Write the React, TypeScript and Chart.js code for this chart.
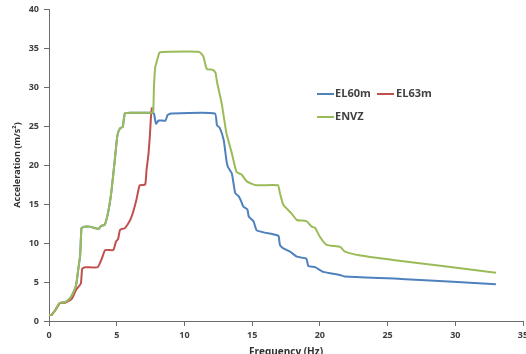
import React, { useEffect, useRef } from "react";
import { Chart, registerables } from "chart.js";

Chart.register(...registerables);

// ENVZ
const envzFreq = [0.0, 0.2, 0.5, 0.8, 1.2, 1.5, 1.7, 2.0, 2.15, 2.3, 2.4, 2.6, 3.0, 3.4, 3.65, 3.85, 4.1, 4.35, 4.6, 4.85, 5.05, 5.25, 5.45, 5.6, 6.0, 7.0, 7.6, 7.7, 7.75, 7.85, 7.95, 8.15, 8.4, 11.1, 11.4, 11.65, 12.1, 12.3, 12.4, 12.75, 13.1, 13.5, 13.85, 14.2, 14.6, 15.3, 16.9, 17.05, 17.3, 17.9, 18.3, 19.0, 19.4, 19.65, 20.0, 20.5, 21.5, 21.85, 23.0, 26.0, 33.0];
const envzAcc = [0.75, 0.8, 1.5, 2.3, 2.4, 2.8, 3.3, 4.6, 6.5, 8.4, 11.9, 12.1, 12.1, 11.9, 11.8, 12.2, 12.3, 13.8, 16.5, 20.5, 23.8, 24.7, 24.9, 26.6, 26.7, 26.7, 26.7, 26.9, 30.0, 32.6, 33.2, 34.4, 34.5, 34.5, 33.9, 32.3, 32.2, 31.8, 30.7, 27.9, 24.1, 21.5, 19.1, 18.8, 17.9, 17.4, 17.4, 16.4, 14.9, 13.8, 12.95, 12.8, 12.1, 11.95, 10.8, 9.75, 9.5, 8.9, 8.4, 7.7, 6.2];

// EL60m
const el60Freq = [0.0, 0.2, 0.5, 0.8, 1.2, 1.5, 1.7, 2.0, 2.15, 2.3, 2.4, 2.6, 3.0, 3.4, 3.65, 3.85, 4.1, 4.35, 4.6, 4.85, 5.05, 5.25, 5.45, 5.6, 6.0, 7.0, 7.6, 7.75, 7.9, 8.1, 8.6, 8.75, 9.0, 12.25, 12.4, 12.6, 12.9, 13.1, 13.2, 13.5, 13.75, 14.0, 14.2, 14.35, 14.65, 14.75, 15.1, 15.35, 16.6, 16.95, 17.05, 17.3, 17.8, 18.3, 19.0, 19.15, 19.65, 20.25, 21.5, 21.85, 26.0, 33.0];
const el60Acc = [0.75, 0.8, 1.5, 2.3, 2.4, 2.8, 3.3, 4.6, 6.5, 8.4, 11.9, 12.1, 12.1, 11.9, 11.8, 12.2, 12.3, 13.8, 16.5, 20.5, 23.8, 24.7, 24.9, 26.6, 26.7, 26.7, 26.7, 26.6, 25.3, 25.7, 25.7, 26.4, 26.6, 26.6, 25.1, 24.8, 23.2, 20.6, 19.8, 18.9, 16.4, 16.0, 15.3, 14.65, 14.3, 13.4, 12.8, 11.6, 11.1, 10.9, 9.75, 9.3, 8.9, 8.25, 8.0, 7.05, 6.9, 6.3, 5.9, 5.7, 5.4, 4.7];

// EL63m
const el63Freq = [0.0, 0.2, 0.5, 0.8, 1.2, 1.4, 1.7, 2.0, 2.35, 2.45, 2.65, 3.6, 3.9, 4.15, 4.75, 4.95, 5.1, 5.25, 5.6, 5.85, 6.05, 6.25, 6.45, 6.7, 7.1, 7.2, 7.35, 7.45, 7.53, 7.6];
const el63Acc = [0.75, 0.8, 1.5, 2.3, 2.35, 2.5, 2.9, 4.0, 4.8, 6.7, 6.9, 6.9, 8.0, 9.1, 9.1, 10.2, 10.5, 11.7, 11.9, 12.5, 13.15, 14.2, 15.5, 17.4, 17.5, 19.3, 21.5, 23.8, 26.2, 27.4];

const seriesLabels = ["EL60m", "EL63m", "ENVZ"];
const seriesColors = ["#4F81BD", "#C0504D", "#9BBB59"];
const seriesOrder = [2, 1, 0];

const xTitle = "Frequency (Hz)";
const yTitle = "Acceleration (m/s\u00B2)";

const toPoints = (xs: number[], ys: number[]) => xs.map((x, i) => ({ x, y: ys[i] }));

const legendPlugin = {
  id: "customLegend",
  afterDraw(chart: any) {
    const ctx = chart.ctx;
    const pos = [
      { lx: 317, ly: 94, tx: 335 },
      { lx: 377, ly: 94, tx: 396 },
      { lx: 317, ly: 117, tx: 335 },
    ];
    ctx.save();
    ctx.font = "bold 11px 'Open Sans'";
    ctx.textBaseline = "middle";
    ctx.textAlign = "left";
    chart.data.datasets.forEach((ds: any, i: number) => {
      const p = pos[i];
      ctx.strokeStyle = ds.borderColor;
      ctx.lineWidth = 2;
      ctx.beginPath();
      ctx.moveTo(p.lx, p.ly);
      ctx.lineTo(p.lx + 17, p.ly);
      ctx.stroke();
      ctx.fillStyle = "#404040";
      ctx.fillText(ds.label, p.tx, p.ly);
    });
    ctx.restore();
  },
};

export default function App() {
  const ref = useRef<HTMLCanvasElement>(null);

  useEffect(() => {
    if (!ref.current) return;
    const axisColor = "#6b6b6b";
    const chart = new Chart(ref.current, {
      type: "line",
      data: {
        datasets: [
          { label: seriesLabels[0], data: toPoints(el60Freq, el60Acc) },
          { label: seriesLabels[1], data: toPoints(el63Freq, el63Acc) },
          { label: seriesLabels[2], data: toPoints(envzFreq, envzAcc) },
        ].map((d, i) => ({
          ...d,
          order: seriesOrder[i],
          borderColor: seriesColors[i],
          backgroundColor: seriesColors[i],
          borderWidth: 2,
          pointRadius: 0,
          tension: 0.15,
          fill: false,
        })),
      },
      options: {
        responsive: false,
        animation: false,
        layout: { padding: { left: 0, right: 3, top: 9, bottom: 0 } },
        plugins: { legend: { display: false }, tooltip: { enabled: false } },
        scales: {
          x: {
            type: "linear",
            min: 0,
            max: 35,
            ticks: { stepSize: 5, padding: 4, color: "#404040", font: { family: "'Open Sans'", size: 9, weight: "bold" } },
            grid: { display: true, drawOnChartArea: false, drawTicks: true, tickLength: 5, color: axisColor },
            border: { display: true, color: axisColor, width: 1 },
            title: { display: true, text: xTitle, color: "#303030", font: { family: "'Open Sans'", size: 10, weight: "bold" }, padding: { top: 0, bottom: 4 } },
            afterFit: (s: any) => {
              s.height = 41;
              s.paddingLeft = 0;
              s.paddingRight = 0;
            },
          },
          y: {
            type: "linear",
            min: 0,
            max: 40,
            ticks: { stepSize: 5, padding: 5, color: "#404040", font: { family: "'Open Sans'", size: 9, weight: "bold" } },
            grid: { display: true, drawOnChartArea: false, drawTicks: true, tickLength: 5, color: axisColor },
            border: { display: true, color: axisColor, width: 1 },
            title: { display: true, text: yTitle, color: "#303030", font: { family: "'Open Sans'", size: 9, weight: "bold" }, padding: { top: 12, bottom: 0 } },
            afterFit: (s: any) => {
              s.width = 49;
              s.paddingTop = 0;
              s.paddingBottom = 0;
            },
          },
        },
      },
      plugins: [legendPlugin],
    } as any);
    return () => chart.destroy();
  }, []);

  return (
    <div style={{ position: "fixed", left: 0, top: 0, width: 526, height: 354, overflow: "hidden", background: "#fff" }}>
      <canvas ref={ref} width={526} height={362} style={{ display: "block" }} />
    </div>
  );
}
